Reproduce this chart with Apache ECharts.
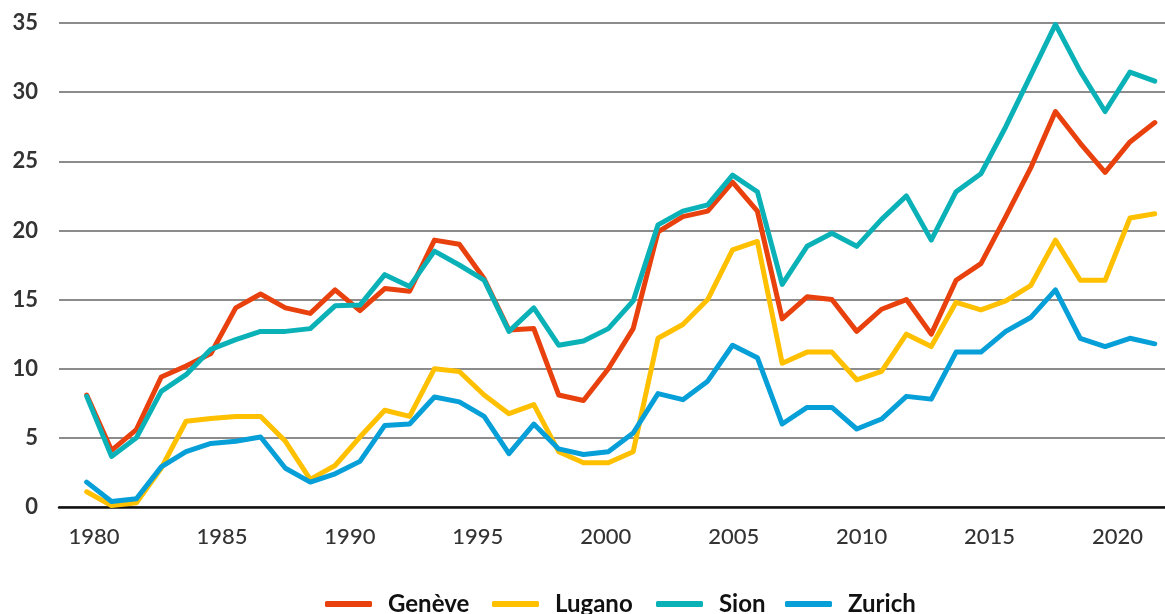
<!DOCTYPE html>
<html>
<head>
<meta charset="utf-8">
<script src="https://cdn.jsdelivr.net/npm/echarts@6/dist/echarts.min.js"></script>
<style>
html,body{margin:0;padding:0;background:#fff;}
#c{width:1165px;height:614px;}
</style>
</head>
<body>
<div id="c"></div>
<script>
// Data points (one per year, hidden category axis)
const years = [1980,1981,1982,1983,1984,1985,1986,1987,1988,1989,1990,1991,1992,1993,1994,1995,1996,1997,1998,1999,2000,2001,2002,2003,2004,2005,2006,2007,2008,2009,2010,2011,2012,2013,2014,2015,2016,2017,2018,2019,2020,2021,2022,2023];
const geneve = [8.1,4.1,5.6,9.4,10.2,11.1,14.4,15.4,14.4,14.0,15.7,14.2,15.8,15.6,19.3,19.0,16.5,12.8,12.9,8.1,7.7,10.0,12.9,19.9,21.0,21.4,23.5,21.4,13.6,15.2,15.0,12.7,14.3,15.0,12.5,16.4,17.6,21.0,24.5,28.6,26.3,24.2,26.4,27.8];
const lugano = [1.1,0.1,0.3,2.8,6.2,6.4,6.55,6.55,4.75,2.0,3.0,5.06,7.0,6.55,10.0,9.8,8.1,6.75,7.4,4.0,3.2,3.2,4.0,12.2,13.2,15.0,18.6,19.2,10.4,11.2,11.2,9.2,9.8,12.5,11.6,14.8,14.25,14.9,16.0,19.3,16.4,16.4,20.9,21.2];
const sion = [8.0,3.66,5.0,8.36,9.57,11.4,12.1,12.7,12.7,12.9,14.55,14.6,16.8,15.95,18.5,17.5,16.4,12.7,14.4,11.7,12.0,12.9,14.9,20.4,21.4,21.85,24.0,22.8,16.1,18.85,19.8,18.85,20.8,22.5,19.3,22.8,24.1,27.5,31.2,34.9,31.5,28.6,31.45,30.8];
const zurich = [1.8,0.4,0.6,2.9,4.0,4.6,4.75,5.06,2.8,1.8,2.4,3.3,5.9,6.0,7.95,7.6,6.55,3.86,6.0,4.2,3.8,4.0,5.35,8.2,7.76,9.1,11.7,10.8,6.0,7.2,7.2,5.64,6.36,8.0,7.8,11.2,11.2,12.7,13.7,15.7,12.2,11.6,12.2,11.8];
const seriesNames = ['Genève','Lugano','Sion','Zurich'];
const colors = ['#E8410E','#FFC000','#0AB2B8','#069FD8'];
const yMin = 0, yMax = 35, yStep = 5;
const xLabelMin = 1980, xLabelMax = 2020, xLabelStep = 5;

const FONT = 'Lato, "Open Sans", sans-serif';
const chart = echarts.init(document.getElementById('c'), null, {renderer:'canvas'});
const gTop = 23, gBottom = 107;
const allData = [geneve, lugano, sion, zurich];
const legendLefts = [325, 492, 656, 785];

const option = {
  animation: false,
  backgroundColor: '#ffffff',
  grid: [
    {left: 59, right: 0, top: gTop, bottom: gBottom},
    {left: 86.7, right: 10.2, top: gTop, bottom: gBottom},
    {left: 94, right: 47.5, top: gTop, bottom: gBottom}
  ],
  xAxis: [
    {gridIndex: 0, type: 'value', min: 0, max: 1, show: true,
      axisLine: {show: true, lineStyle: {color: '#111', width: 2.5}},
      axisTick: {show: false}, axisLabel: {show: false}, splitLine: {show: false}},
    {gridIndex: 1, type: 'category', data: years, boundaryGap: false, show: false},
    {gridIndex: 2, type: 'value', min: xLabelMin, max: xLabelMax, interval: xLabelStep,
      axisLine: {show: false}, axisTick: {show: false}, splitLine: {show: false},
      axisLabel: {show: true, margin: 19, fontSize: 22, fontFamily: FONT, color: '#333', fontWeight: 500,
        formatter: v => String(v)}}
  ],
  yAxis: [
    {gridIndex: 0, type: 'value', min: yMin, max: yMax, interval: yStep,
      axisLine: {show: false}, axisTick: {show: false},
      axisLabel: {margin: 21, fontSize: 22, fontWeight: 'bold', fontFamily: FONT, color: '#333'},
      splitLine: {show: true, lineStyle: {color: '#666', width: 1.6}}},
    {gridIndex: 1, type: 'value', min: yMin, max: yMax, show: false},
    {gridIndex: 2, type: 'value', min: yMin, max: yMax, show: false}
  ],
  legend: seriesNames.map((n, i) => ({
    data: [n], left: legendLefts[i], top: 592, padding: 0, icon: 'roundRect', itemWidth: 47, itemHeight: 6,
    textStyle: {fontSize: 24, fontWeight: 'bold', fontFamily: FONT, color: '#111', padding: [0,0,0,11]}
  })),
  series: seriesNames.map((n, i) => ({
    name: n, type: 'line', xAxisIndex: 1, yAxisIndex: 1, data: allData[i],
    showSymbol: false, symbol: 'none', color: colors[i],
    lineStyle: {width: 5, color: colors[i], join: 'round', cap: 'round'}
  }))
};
chart.setOption(option);
</script>
</body>
</html>
